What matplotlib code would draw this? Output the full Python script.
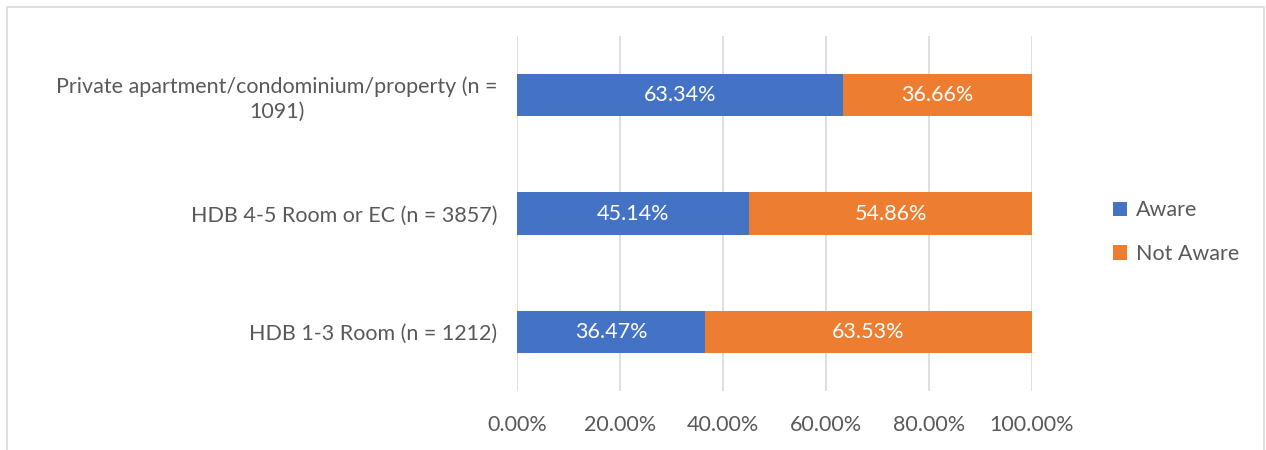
import matplotlib
matplotlib.use('Agg')
import matplotlib.pyplot as plt
import matplotlib.patches as mpatches
import numpy as np

# ── Data ──────────────────────────────────────────────────────────────────────
categories = ['HDB 1-3 Room (n = 1212)',
              'HDB 4-5 Room or EC (n = 3857)',
              'Private apartment/condominium/property (n =\n1091)']
aware = [36.47, 45.14, 63.34]
not_aware = [63.53, 54.86, 36.66]
xticks = [0, 20, 40, 60, 80, 100]

BLUE = '#4472C4'
ORANGE = '#ED7D31'
TEXT = '#595959'
GRID = '#D9D9D9'
FS = 15.5

plt.rcParams['font.family'] = ['Lato', 'DejaVu Sans']

fig = plt.figure(figsize=(12.66, 4.5), dpi=100)
ax = fig.add_axes([517 / 1266, 59 / 450, 515 / 1266, 355 / 450])

# chart border (extends past the bottom edge like the reference)
fig.patches.append(mpatches.Rectangle((7 / 1266, -0.1), 1257 / 1266, 0.1 + 443 / 450,
                                      transform=fig.transFigure, fill=False,
                                      edgecolor=GRID, lw=1.2))

y = np.arange(len(categories))
h = 0.355
b1 = ax.barh(y, aware, height=h, color=BLUE, label='Aware', zorder=2)
b2 = ax.barh(y, not_aware, left=aware, height=h, color=ORANGE, label='Not Aware', zorder=2)

for i in range(len(categories)):
    ax.text(aware[i] / 2, y[i], f'{aware[i]:.2f}%', ha='center', va='center',
            color='white', fontsize=FS, zorder=3)
    ax.text(aware[i] + not_aware[i] / 2, y[i], f'{not_aware[i]:.2f}%', ha='center',
            va='center', color='white', fontsize=FS, zorder=3)

ax.set_xlim(0, 100)
ax.set_ylim(-0.5, 2.5)
ax.set_xticks(xticks)
ax.set_xticklabels([f'{v:.2f}%' for v in xticks])
ax.set_yticks(y)
ax.set_yticklabels(categories, multialignment='center', linespacing=1.3)
ax.tick_params(axis='both', length=0, labelsize=FS, labelcolor=TEXT)
ax.tick_params(axis='y', pad=14)
ax.tick_params(axis='x', pad=17)
ax.grid(axis='x', color=GRID, lw=1.2, zorder=0)
for s in ax.spines.values():
    s.set_visible(False)

leg = fig.legend(handles=[b1, b2], labels=['Aware', 'Not Aware'],
                 loc='center left', bbox_to_anchor=(1094 / 1266, 0.484),
                 frameon=False, fontsize=FS, handlelength=0.65, handleheight=0.65,
                 handletextpad=0.4, labelspacing=1.1)
for t in leg.get_texts():
    t.set_color(TEXT)

fig.savefig('out.png', dpi=100)
